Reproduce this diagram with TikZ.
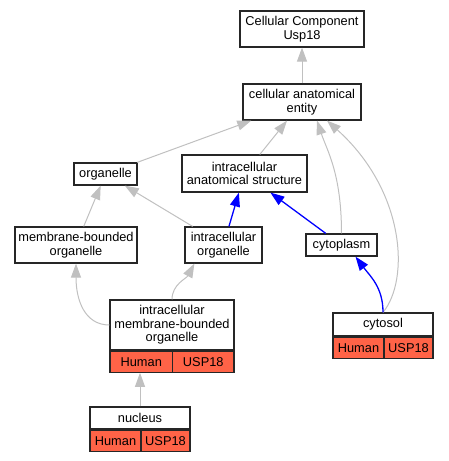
\documentclass[tikz,border=0pt]{standalone}
\usepackage{fontspec}
\setmainfont{Liberation Sans}
\usetikzlibrary{arrows.meta}
\definecolor{genered}{HTML}{FF6347}
\definecolor{edgegray}{HTML}{C0C0C0}
\newcommand{\gofont}{\fontsize{12.8}{13.6}\selectfont}
\tikzset{
	term/.style={draw=black!85,line width=1.2pt,fill=white,inner sep=0pt,align=center,font=\gofont},
	cell/.style={term,fill=genered,minimum height=21pt},
	isa/.style={draw=edgegray,line width=1pt,-{Triangle[length=14pt,width=10pt]}},
	partof/.style={draw=blue,line width=1.3pt,-{Triangle[length=14pt,width=10pt]}}
}
\begin{document}
\begin{tikzpicture}[x=1pt,y=-1pt]
		\useasboundingbox (0,0) rectangle (448,461);
		\node[term,minimum width=124pt,minimum height=36pt] (cc) at (302,29) {Cellular Component\\Usp18};
		\node[term,minimum width=118pt,minimum height=36pt] (cae) at (302,102) {cellular anatomical\\entity};
		\node[term,minimum width=63pt,minimum height=22pt] (org) at (105.5,174) {organelle};
		\node[term,minimum width=125pt,minimum height=37pt] (ias) at (244.5,173.5) {intracellular\\anatomical structure};
		\node[term,minimum width=122pt,minimum height=36pt] (mbo) at (76,245) {membrane-bounded\\organelle};
		\node[term,minimum width=77pt,minimum height=36pt] (io) at (223.5,245) {intracellular\\organelle};
		\node[term,minimum width=71pt,minimum height=22pt] (cyto) at (341.5,245) {cytoplasm};
		\node[term,minimum width=124pt,minimum height=50pt] (imbo) at (172,325) {intracellular\\membrane-bounded\\organelle};
		\node[cell,minimum width=62.5pt,anchor=north west] (imbo-h) at (imbo.south west) {Human};
		\node[cell,minimum width=61.5pt,anchor=north east] (imbo-u) at (imbo.south east) {USP18};
		\node[term,minimum width=100pt,minimum height=23pt] (csol) at (383,324.5) {cytosol};
		\node[cell,minimum width=51pt,anchor=north west] (csol-h) at (csol.south west) {Human};
		\node[cell,minimum width=49pt,anchor=north east] (csol-u) at (csol.south east) {USP18};
		\node[term,minimum width=100pt,minimum height=22pt] (nuc) at (140,418) {nucleus};
		\node[cell,minimum width=51pt,anchor=north west] (nuc-h) at (nuc.south west) {Human};
		\node[cell,minimum width=49pt,anchor=north east] (nuc-u) at (nuc.south east) {USP18};
		\draw[isa] (cae) -- (cc);
		\draw[isa] (org) -- (cae);
		\draw[isa] (ias) -- (cae);
		\draw[isa] (cyto.north) .. controls +(0,-60) and +(10,30) .. ([xshift=15pt]cae.south);
		\draw[isa] (csol.north) .. controls +(27,-33) and +(78,70) .. ([xshift=25pt]cae.south);
		\draw[isa] (mbo) -- (org);
		\draw[isa] (io) -- (org);
		\draw[partof] (io) -- (ias);
		\draw[partof] (cyto) -- (ias);
		\draw[partof] (csol.north) .. controls +(0,-25) and +(15,20) .. ([xshift=14pt]cyto.south);
		\draw[isa] (imbo.west) .. controls +(-25,0) and +(0,36) .. (mbo.south);
		\draw[isa] (imbo.north) .. controls +(0,-15) and +(-8,15) .. ([xshift=10pt]io.south west);
		\draw[isa] (nuc.north) -- (imbo-h.south -| nuc.north);
	\end{tikzpicture}
\end{document}
